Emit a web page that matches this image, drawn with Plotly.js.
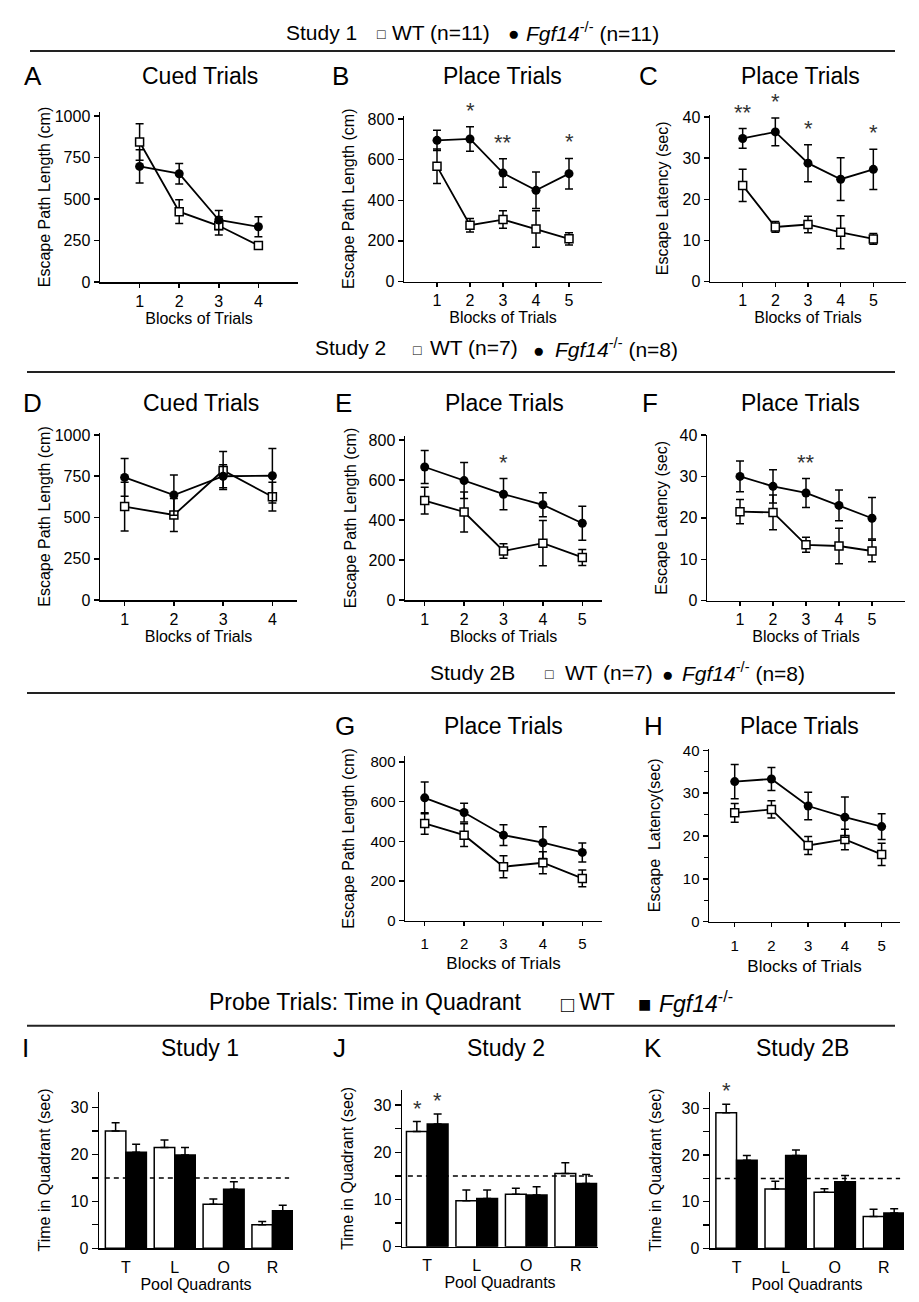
<!DOCTYPE html>
<html>
<head>
<meta charset="utf-8">
<script src="https://cdn.plot.ly/plotly-3.0.1.min.js"></script>
<style>
  body { margin: 0; background: #fff; }
</style>
</head>
<body>
<div id="chart" style="width:919px;height:1302px"></div>
<script>
// x categories
const blocks4 = [1, 2, 3, 4];
const blocks5 = [1, 2, 3, 4, 5];
const quadrants = ['T', 'L', 'O', 'R'];

// Study 1 (WT n=11, Fgf14-/- n=11)
const cued1WT = [844, 424, 339, 220];
const cued1WTErr = [110, 72, 55, 20];
const cued1KO = [697, 653, 374, 333];
const cued1KOErr = [100, 62, 57, 60];
const path1WT = [567, 277, 305, 259, 210];
const path1WTErr = [85, 33, 43, 90, 30];
const path1KO = [695, 702, 534, 449, 531];
const path1KOErr = [50, 60, 70, 90, 75];
const lat1WT = [23.4, 13.3, 13.9, 12.0, 10.4];
const lat1WTErr = [3.9, 1.3, 2.0, 4.0, 1.3];
const lat1KO = [34.8, 36.4, 28.8, 24.9, 27.3];
const lat1KOErr = [2.4, 3.4, 4.5, 5.2, 4.9];

// Study 2 (WT n=7, Fgf14-/- n=8)
const cued2WT = [566, 515, 785, 626];
const cued2WTErr = [148, 100, 115, 87];
const cued2KO = [743, 636, 750, 753];
const cued2KOErr = [115, 122, 70, 165];
const path2WT = [497, 440, 245, 284, 213];
const path2WTErr = [67, 100, 36, 113, 40];
const path2KO = [665, 597, 529, 476, 384];
const path2KOErr = [82, 90, 78, 60, 85];
const lat2WT = [21.5, 21.3, 13.5, 13.2, 12.0];
const lat2WTErr = [2.9, 4.2, 1.8, 4.3, 2.6];
const lat2KO = [30.0, 27.6, 26.0, 23.0, 19.9];
const lat2KOErr = [3.7, 4.0, 3.5, 3.7, 5.0];

// Study 2B (WT n=7, Fgf14-/- n=8)
const path2bWT = [490, 431, 272, 292, 213];
const path2bWTErr = [54, 57, 55, 56, 42];
const path2bKO = [619, 545, 431, 393, 344];
const path2bKOErr = [80, 47, 52, 80, 48];
const lat2bWT = [25.4, 26.2, 17.8, 19.2, 15.7];
const lat2bWTErr = [2.2, 2.0, 2.1, 2.4, 2.6];
const lat2bKO = [32.7, 33.3, 27.0, 24.4, 22.2];
const lat2bKOErr = [4.0, 2.7, 3.2, 4.7, 3.0];

// probe trials: time in quadrant (sec)
const probe1WT = [25.0, 21.5, 9.4, 5.0];
const probe1WTErr = [1.8, 1.6, 1.1, 0.7];
const probe1KO = [20.5, 19.9, 12.6, 8.0];
const probe1KOErr = [1.7, 1.6, 1.6, 1.2];
const probe2WT = [24.4, 9.75, 11.1, 15.5];
const probe2WTErr = [2.1, 2.25, 1.3, 2.3];
const probe2KO = [26.0, 10.2, 10.95, 13.4];
const probe2KOErr = [2.1, 1.8, 1.75, 1.9];
const probe2bWT = [29.1, 12.7, 12.0, 6.8];
const probe2bWTErr = [1.8, 1.7, 0.8, 1.6];
const probe2bKO = [18.9, 19.9, 14.3, 7.6];
const probe2bKOErr = [1.0, 1.2, 1.3, 0.9];
const chanceLevel = 15;

// significance marks
const starsB = { blocks: [2, 3, 5], text: ['*', '**', '*'] };
const starsC = { blocks: [1, 2, 3, 5], text: ['**', '*', '*', '*'] };
const starsE = { blocks: [3], text: ['*'] };
const starsF = { blocks: [3], text: ['**'] };

const FONT = '"Liberation Sans", Arial, Helvetica, sans-serif';
const W = 919;
const H = 1302;
const KO_LABEL = '<i>Fgf14</i><sup>-/-</sup>';
const SP = '\u00a0';

function px(x) { return x / W; }
function py(y) { return 1 - y / H; }

const data = [];
const annotations = [];
const shapes = [];
const layout = {
	width: W,
	height: H,
	margin: { l: 0, r: 0, t: 0, b: 0 },
	paper_bgcolor: '#fff',
	plot_bgcolor: 'rgba(0,0,0,0)',
	font: { family: FONT, color: '#000', size: 16 },
	showlegend: false,
	bargap: 0.16,
	bargroupgap: 0,
};

const axisBase = {
	showline: true,
	linecolor: '#000',
	linewidth: 1.5,
	ticks: 'outside',
	tickcolor: '#000',
	tickwidth: 1.5,
	ticklen: 5,
	showgrid: false,
	zeroline: false,
	fixedrange: true,
	automargin: false,
	tickfont: { size: 16, color: '#000' },
};

// n = subplot number, box = [left, right, bottom, top] in pixels
function addAxes(n, box, xOpts, yOpts) {
	const s = n === 1 ? '' : n;
	layout['xaxis' + s] = Object.assign({}, axisBase, {
		domain: [px(box[0]), px(box[1])],
		anchor: 'y' + s,
	}, xOpts);
	layout['yaxis' + s] = Object.assign({}, axisBase, {
		domain: [py(box[2]), py(box[3])],
		anchor: 'x' + s,
	}, yOpts);
}

function errBar(arr) {
	return { type: 'data', array: arr, color: '#000', thickness: 1.5, width: 4 };
}

function addLinePanel(n, x, wt, wtErr, ko, koErr) {
	const s = n === 1 ? '' : n;
	data.push({
		x: x, y: wt, error_y: errBar(wtErr),
		mode: 'lines+markers', cliponaxis: false,
		line: { color: '#000', width: 1.8 },
		marker: { symbol: 'square', size: 8, color: '#fff', line: { color: '#000', width: 1.5 } },
		xaxis: 'x' + s, yaxis: 'y' + s,
	});
	data.push({
		x: x, y: ko, error_y: errBar(koErr),
		mode: 'lines+markers', cliponaxis: false,
		line: { color: '#000', width: 1.8 },
		marker: { symbol: 'circle', size: 9, color: '#000' },
		xaxis: 'x' + s, yaxis: 'y' + s,
	});
}

function addBarPanel(n, wt, wtErr, ko, koErr) {
	const s = n === 1 ? '' : n;
	data.push({
		type: 'bar', x: quadrants, y: wt,
		marker: { color: '#fff', line: { color: '#000', width: 1.5 } },
		error_y: Object.assign(errBar(wtErr), { symmetric: false, arrayminus: wt.map(() => 0) }),
		xaxis: 'x' + s, yaxis: 'y' + s,
	});
	data.push({
		type: 'bar', x: quadrants, y: ko,
		marker: { color: '#000', line: { color: '#000', width: 1.5 } },
		error_y: Object.assign(errBar(koErr), { symmetric: false, arrayminus: ko.map(() => 0) }),
		xaxis: 'x' + s, yaxis: 'y' + s,
	});
	//chance level
	shapes.push({
		type: 'line', layer: 'above',
		xref: 'x' + s + ' domain', x0: 0.03, x1: 0.98,
		yref: 'y' + s, y0: chanceLevel, y1: chanceLevel,
		line: { color: '#000', width: 1.5, dash: '5px,4px' },
	});
}

function addStars(n, x, ko, koErr, stars) {
	const s = n === 1 ? '' : n;
	stars.blocks.forEach((b, i) => {
		const k = x.indexOf(b);
		annotations.push({
			xref: 'x' + s, yref: 'y' + s, x: b, y: ko[k] + koErr[k],
			text: stars.text[i], showarrow: false, yanchor: 'bottom', yshift: 2,
			font: { size: 22, color: '#333' },
		});
	});
}

function addText(text, x, y, size, opts) {
	annotations.push(Object.assign({
		xref: 'paper', yref: 'paper', x: px(x), y: py(y),
		text: text, showarrow: false, xanchor: 'center', yanchor: 'middle',
		font: { size: size, color: '#000' },
	}, opts));
}

function addRule(y, x0, x1) {
	shapes.push({
		type: 'line', xref: 'paper', yref: 'paper',
		x0: px(x0), x1: px(x1), y0: py(y), y1: py(y),
		line: { color: '#222', width: 2 },
	});
}

// header: title, open marker, WT label, filled marker, KO label
function addHeader(y, size, parts, marks) {
	addText(parts[0], parts[1], y, size, { xanchor: 'left' });
	addText(marks[0], parts[2], y + 2, marks[1], {});
	addText(parts[3], parts[4], y, size, { xanchor: 'left' });
	addText(marks[2], parts[5], y + 2, marks[3], {});
	addText(parts[6], parts[7], y, size, { xanchor: 'left' });
}

//line panels
const xBlocks = { title: { text: 'Blocks of Trials', font: { size: 16 }, standoff: 2 } };
const pathTitle = 'Escape Path Length (cm)';
const latTitle = 'Escape Latency (sec)';

addLinePanel(1, blocks4, cued1WT, cued1WTErr, cued1KO, cued1KOErr);
addAxes(1, [100, 298, 282, 112],
	Object.assign({ range: [0, 5], tickvals: blocks4, ticklen: 4 }, xBlocks),
	{ range: [0, 1025], dtick: 250, title: { text: pathTitle, font: { size: 16 }, standoff: 0 } });

addLinePanel(2, blocks5, path1WT, path1WTErr, path1KO, path1KOErr);
addAxes(2, [404, 602, 281.5, 116],
	Object.assign({ range: [0, 6], tickvals: blocks5, ticklen: 4 }, xBlocks),
	{ range: [0, 815], dtick: 200, title: { text: pathTitle, font: { size: 16 }, standoff: 9 } });
addStars(2, blocks5, path1KO, path1KOErr, starsB);

addLinePanel(3, blocks5, lat1WT, lat1WTErr, lat1KO, lat1KOErr);
addAxes(3, [710, 906, 281.7, 115],
	Object.assign({ range: [0, 6], tickvals: blocks5, ticklen: 4 }, xBlocks),
	{ range: [0, 40.5], dtick: 10, title: { text: latTitle, font: { size: 16 }, standoff: 10 } });
addStars(3, blocks5, lat1KO, lat1KOErr, starsC);

addLinePanel(4, blocks4, cued2WT, cued2WTErr, cued2KO, cued2KOErr);
addAxes(4, [100, 297, 600, 433],
	Object.assign({ range: [0.5, 4.5], tickvals: blocks4, ticklen: 4 }, xBlocks),
	{ range: [0, 1012], dtick: 250, title: { text: pathTitle, font: { size: 16 }, standoff: 0 } });

addLinePanel(5, blocks5, path2WT, path2WTErr, path2KO, path2KOErr);
addAxes(5, [405, 602, 600, 436],
	Object.assign({ range: [0.5, 5.5], tickvals: blocks5, ticklen: 4 }, xBlocks),
	{ range: [0, 820], dtick: 200, title: { text: pathTitle, font: { size: 16 }, standoff: 8 } });
addStars(5, blocks5, path2KO, path2KOErr, starsE);

addLinePanel(6, blocks5, lat2WT, lat2WTErr, lat2KO, lat2KOErr);
addAxes(6, [707, 905, 600.7, 435],
	Object.assign({ range: [0, 6], tickvals: blocks5, ticklen: 4 }, xBlocks),
	{ range: [0, 40], dtick: 10, title: { text: latTitle, font: { size: 16 }, standoff: 8 } });
addStars(6, blocks5, lat2KO, lat2KOErr, starsF);

addLinePanel(7, blocks5, path2bWT, path2bWTErr, path2bKO, path2bKOErr);
addAxes(7, [405, 602, 920.7, 756],
	{ range: [0.5, 5.5], tickvals: blocks5, ticklen: 4, ticklabelstandoff: 5, tickfont: { size: 15 },
		title: { text: 'Blocks of Trials', font: { size: 17 }, standoff: 6 } },
	{ range: [0, 830], dtick: 200, tickfont: { size: 15 }, title: { text: pathTitle, font: { size: 16 }, standoff: 12 } });

addLinePanel(8, blocks5, lat2bWT, lat2bWTErr, lat2bKO, lat2bKOErr);
addAxes(8, [709, 900, 921.7, 749],
	{ range: [0.3, 5.5], tickvals: blocks5, ticklen: 4, ticklabelstandoff: 6, tickfont: { size: 15 },
		title: { text: 'Blocks of Trials', font: { size: 17 }, standoff: 7 } },
	{ range: [0, 40.3], dtick: 10, tickfont: { size: 15 },
		minor: { dtick: 5, ticks: 'outside', ticklen: 4, tickcolor: '#000', tickwidth: 1.2 },
		title: { text: 'Escape' + SP + SP + 'Latency(sec)', font: { size: 16 }, standoff: 18 } });

//probe trial bars
const xQuad = { ticks: '', ticklabelstandoff: 4, title: { text: 'Pool Quadrants', font: { size: 16 }, standoff: 2 } };
const yQuad = {
	dtick: 10, ticklen: 6,
	minor: { dtick: 5, ticks: 'outside', ticklen: 6, tickcolor: '#000', tickwidth: 1.2 },
	title: { text: 'Time in Quadrant (sec)', font: { size: 16 }, standoff: 16 },
};

addBarPanel(9, probe1WT, probe1WTErr, probe1KO, probe1KOErr);
addAxes(9, [99, 293, 1248.3, 1091.7],
	Object.assign({ range: [-0.55, 3.42] }, xQuad), Object.assign({ range: [0, 33.4] }, yQuad));

addBarPanel(10, probe2WT, probe2WTErr, probe2KO, probe2KOErr);
addAxes(10, [402, 598, 1246.7, 1090],
	Object.assign({ range: [-0.51, 3.45] }, xQuad), Object.assign({ range: [0, 33.2] }, yQuad));

addBarPanel(11, probe2bWT, probe2bWTErr, probe2bKO, probe2bKOErr);
addAxes(11, [710, 904, 1248.3, 1091.7],
	Object.assign({ range: [-0.54, 3.41] }, xQuad), Object.assign({ range: [0, 33.6] }, yQuad));

//stars above target quadrant bars
function addBarStar(n, i, value, err, shift) {
	annotations.push({
		xref: 'x' + n, yref: 'y' + n, x: i, y: value + err, xshift: shift,
		text: '*', showarrow: false, yanchor: 'bottom', yshift: -1,
		font: { size: 22, color: '#333' },
	});
}
addBarStar(10, 0, probe2WT[0], probe2WTErr[0], -10);
addBarStar(10, 0, probe2KO[0], probe2KOErr[0], 10);
addBarStar(11, 0, probe2bWT[0], probe2bWTErr[0], -10);

//section headers
const openSq = '\u25a1';
const dot = '\u25cf';
const fillSq = '\u25a0';
addHeader(32, 21, ['Study 1', 284, 381, 'WT (n=11)', 390, 513, KO_LABEL + ' (n=11)', 524], [openSq, 14, dot, 19]);
addRule(51, 30, 895);
addHeader(348, 21, ['Study 2', 313, 417, 'WT (n=7)', 428, 538, KO_LABEL + ' (n=8)', 553], [openSq, 14, dot, 19]);
addRule(372, 27, 895);
addHeader(672, 21, ['Study 2B', 428, 549, 'WT (n=7)', 563, 667, KO_LABEL + ' (n=8)', 680], [openSq, 14, dot, 19]);
addRule(693, 27, 895);
addHeader(1002, 23, ['Probe Trials: Time in Quadrant', 207, 567, 'WT', 577, 644, KO_LABEL, 657], [openSq, 22, fillSq, 22]);
addRule(1025.7, 27, 895);

//panel letters and titles
const panelLabels = [
	['A', 33, 76, 'Cued Trials', 200],
	['B', 340, 76, 'Place Trials', 502],
	['C', 648, 76, 'Place Trials', 800],
	['D', 32, 403, 'Cued Trials', 201],
	['E', 343, 403, 'Place Trials', 505],
	['F', 650, 403, 'Place Trials', 800],
	['G', 345, 726, 'Place Trials', 503],
	['H', 653, 726, 'Place Trials', 799],
	['I', 25, 1048, 'Study 1', 200],
	['J', 339, 1048, 'Study 2', 506],
	['K', 653, 1048, 'Study 2B', 802],
];
panelLabels.forEach((p) => {
	addText(p[0], p[1], p[2], 26);
	addText(p[3], p[4], p[2], 23);
});

layout.annotations = annotations;
layout.shapes = shapes;

Plotly.newPlot('chart', data, layout, { staticPlot: true });
</script>
</body>
</html>
